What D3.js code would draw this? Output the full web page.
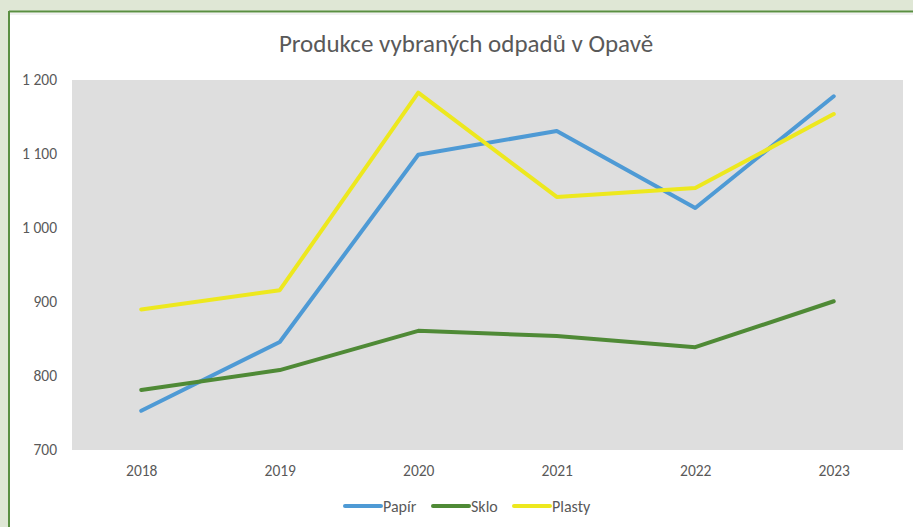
<!DOCTYPE html>
<html><head><meta charset="utf-8">
<script src="https://cdn.jsdelivr.net/npm/d3@7"></script>
<style>body{margin:0;background:#dfe7d5;}svg{display:block;}</style>
</head><body>
<svg id="c" width="913" height="527"></svg>
<script>
const years = ["2018","2019","2020","2021","2022","2023"];
const papir = [753, 846, 1099, 1131, 1027, 1178];
const sklo = [781, 808, 861, 854, 839, 901];
const plasty = [890, 916, 1183, 1042, 1054, 1154];
const seriesNames = ["Papír","Sklo","Plasty"];
const seriesColors = ["#4e9ad5","#4f8a36","#ede81e"];
const yTicks = [700, 800, 900, 1000, 1100, 1200];
const title = "Produkce vybraných odpadů v Opavě";

const svg = d3.select("#c");
const font = "Calibri, Carlito, 'Open Sans', sans-serif";
// frame
svg.append("rect").attr("x",9).attr("y",11).attr("width",920).attr("height",530).attr("fill","#ffffff");
svg.append("line").attr("x1",9).attr("x2",913).attr("y1",11.5).attr("y2",11.5).attr("stroke","#5a8f42").attr("stroke-width",2);
svg.append("line").attr("x1",9).attr("x2",913).attr("y1",14).attr("y2",14).attr("stroke","#e4e4e4").attr("stroke-width",1);
svg.append("line").attr("x1",9).attr("x2",9).attr("y1",11).attr("y2",527).attr("stroke","#5a8f42").attr("stroke-width",2);

const m = {l:72, r:903, t:80, b:450};
const x = d3.scalePoint().domain(years).range([m.l, m.r]).padding(0.5);
const y = d3.scaleLinear().domain([700,1200]).range([m.b, m.t]);

svg.append("rect").attr("x",m.l).attr("y",m.t).attr("width",m.r-m.l).attr("height",m.b-m.t).attr("fill","#dedede");

svg.append("text").attr("x",466).attr("y",52).attr("text-anchor","middle")
  .attr("font-family",font).attr("font-size",25).attr("fill","#595959").text(title);

const fmt = v => d3.format(",")(v).replace(",", " ");
const ya = svg.append("g").attr("transform",`translate(${m.l},0)`)
  .call(d3.axisLeft(y).tickValues(yTicks).tickFormat(fmt).tickSize(0).tickPadding(15));
ya.select(".domain").remove();
ya.selectAll("text").attr("font-family",font).attr("font-size",15.5).attr("fill","#595959");

const xa = svg.append("g").attr("transform",`translate(0,${m.b})`)
  .call(d3.axisBottom(x).tickSize(0).tickPadding(15));
xa.select(".domain").remove();
xa.selectAll("text").attr("font-family",font).attr("font-size",15.5).attr("fill","#595959");

const data = [papir, sklo, plasty];
const line = d3.line().x((d,i)=>x(years[i])).y(d=>y(d));
data.forEach((s,k)=>{
  svg.append("path").attr("d",line(s)).attr("fill","none").attr("stroke",seriesColors[k])
    .attr("stroke-width",4).attr("stroke-linecap","round").attr("stroke-linejoin","round");
});

// legend
const legX = [345, 433, 514];
seriesNames.forEach((n,k)=>{
  const g = svg.append("g").attr("transform",`translate(${legX[k]},506)`);
  g.append("line").attr("x1",0).attr("x2",36).attr("stroke",seriesColors[k]).attr("stroke-width",4).attr("stroke-linecap","round");
  g.append("text").attr("x",38).attr("y",5.5).attr("font-family",font).attr("font-size",16).attr("fill","#595959").text(n);
});
</script>
</body></html>
